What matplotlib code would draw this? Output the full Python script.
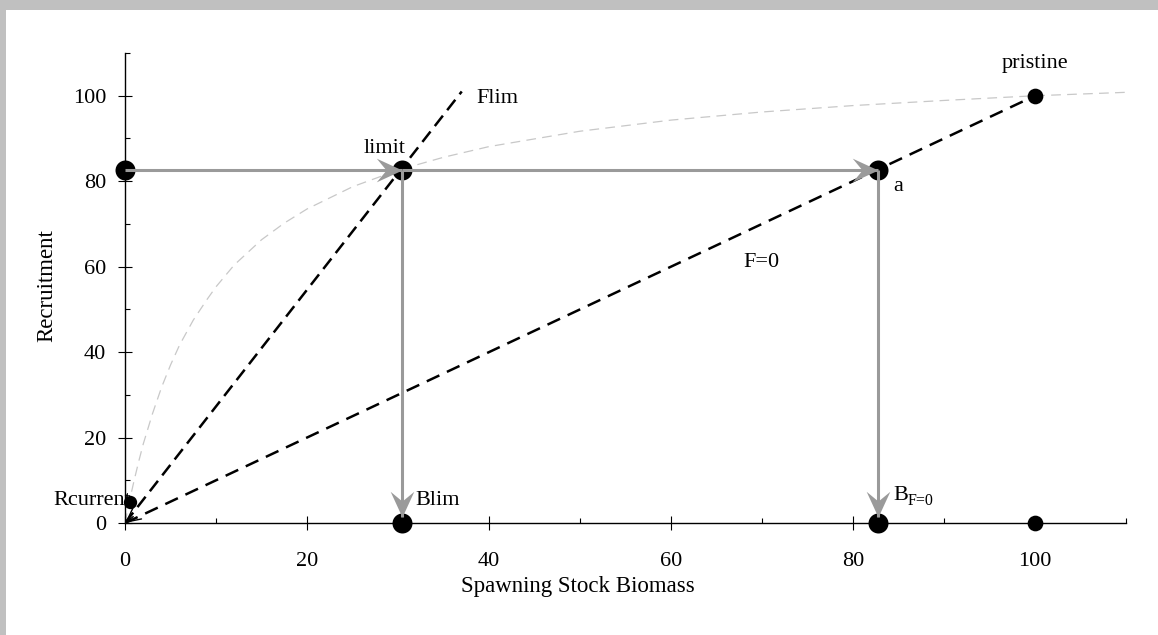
import matplotlib
matplotlib.use('Agg')
import matplotlib.pyplot as plt
from matplotlib.path import Path
from matplotlib.markers import MarkerStyle
from matplotlib.transforms import Affine2D
from matplotlib.patches import Rectangle
from matplotlib.ticker import MultipleLocator

plt.rcParams['font.family'] = ['Liberation Serif', 'DejaVu Serif']
plt.rcParams['lines.scale_dashes'] = False

# stock-recruitment curve
sr_ssb = [0, 0.5, 1, 1.5, 2, 3, 4, 5, 6, 7.5, 9, 10, 12, 15, 17.5, 20, 25, 30, 35,
          40, 50, 60, 70, 80, 90, 100, 110]
sr_rec = [0, 5.3, 10, 14.4, 18.5, 25.5, 31.7, 37, 41.7, 47.5, 52.3, 55.3, 60.4, 66.3,
          70.2, 73.5, 78.7, 82.6, 85.6, 88.1, 91.7, 94.3, 96.2, 97.7, 98.9, 100, 100.8]

# replacement lines
flim_x = [0, 37]
flim_y = [0, 101]
f0_x = [0, 100]
f0_y = [0, 100]

# points
big_x = [0, 30.4, 82.7, 30.4, 82.7]
big_y = [82.7, 82.7, 82.7, 0, 0]
mid_x = [100, 100]
mid_y = [100, 0]
rcur_x = [0.5]
rcur_y = [5]

# grey arrows
arr_x0 = [0, 30.4, 30.4, 82.7]
arr_y0 = [82.7, 82.7, 82.7, 82.7]
arr_x1 = [30.4, 82.7, 30.4, 82.7]
arr_y1 = [82.7, 82.7, 1.3, 1.3]

# labels: text, x, y, ha
labels = [
    ('Flim', 38.6, 98.3, 'left'),
    ('limit', 26.2, 86.6, 'left'),
    ('a', 84.4, 77.8, 'left'),
    ('pristine', 100, 106.4, 'center'),
    ('F=0', 67.9, 59.9, 'left'),
    ('Blim', 31.9, 4.2, 'left'),
    ('B', 84.4, 5.4, 'left'),
]

grey = '#9a9a9a'

fig = plt.figure(figsize=(11.58, 6.35), dpi=100, facecolor='#c0c0c0')
fig.add_artist(Rectangle((6 / 1158, 0), 1, 625 / 635, transform=fig.transFigure,
                         facecolor='white', edgecolor='none', zorder=-10))
ax = fig.add_axes([0.108, 0.1764, 0.8644, 0.7401])
ax.set_facecolor('none')

ln, = ax.plot(sr_ssb, sr_rec, color='#c8c8c8', lw=0.9, zorder=1)
ln.set_dashes([7, 4.5])
ln, = ax.plot(flim_x, flim_y, color='black', lw=1.8, zorder=2)
ln.set_dashes([9.5, 5])
ln, = ax.plot(f0_x, f0_y, color='black', lw=1.8, zorder=2)
ln.set_dashes([10, 6])

ax.annotate('', xy=(0, 0), xytext=(0.9, 1.5),
            arrowprops=dict(arrowstyle='->,head_length=0.5,head_width=0.25',
                            color='black', lw=1, shrinkA=0, shrinkB=0,
                            mutation_scale=20), zorder=3)

ax.plot(big_x, big_y, 'o', color='black', ms=14.4, mec='none', zorder=4, clip_on=False)
ax.plot(mid_x, mid_y, 'o', color='black', ms=11.3, mec='none', zorder=4, clip_on=False)
ax.plot(rcur_x, rcur_y, 'o', color='black', ms=9.6, mec='none', zorder=4, clip_on=False)

head = Path([(0, 0), (-1, 0.46), (-0.62, 0), (-1, -0.46), (0, 0)],
            [Path.MOVETO, Path.LINETO, Path.LINETO, Path.LINETO, Path.CLOSEPOLY])
for x0, y0, x1, y1 in zip(arr_x0, arr_y0, arr_x1, arr_y1):
    ax.plot([x0, x1], [y0, y1], color=grey, lw=2.2, solid_capstyle='butt',
            zorder=5, clip_on=False)
    ang = 0 if y0 == y1 else -90
    m = MarkerStyle(head, transform=Affine2D().rotate_deg(ang))
    ax.plot([x1], [y1], marker=m, ms=37, color=grey, mec='none', zorder=5, clip_on=False)

for txt, x, y, ha in labels:
    ax.text(x, y, txt, ha=ha, va='baseline', fontsize=16, zorder=6)
# subscript of B_F=0
ax.annotate('F=0', xy=(84.4, 5.4), xytext=(10.8, -3.5), textcoords='offset points',
            ha='left', va='baseline', fontsize=11.5, zorder=6)
ax.text(0.66, 4.2, 'Rcurrent', ha='right', va='baseline', fontsize=16, zorder=3)

ax.set_xlim(0, 110)
ax.set_ylim(0, 110)
ax.spines['top'].set_visible(False)
ax.spines['right'].set_visible(False)
for s in ['left', 'bottom']:
    ax.spines[s].set_linewidth(1.0)
ax.xaxis.set_major_locator(MultipleLocator(20))
ax.xaxis.set_minor_locator(MultipleLocator(10))
ax.yaxis.set_major_locator(MultipleLocator(20))
ax.yaxis.set_minor_locator(MultipleLocator(10))
ax.tick_params(which='major', direction='inout', length=9.4, width=0.8, labelsize=16)
ax.tick_params(axis='y', which='major', pad=8.8)
ax.tick_params(axis='x', which='major', pad=16.2)
ax.tick_params(which='minor', direction='in', length=3.6, width=0.8)

ax.set_xlabel('Spawning Stock Biomass', fontsize=16.5)
ax.set_ylabel('Recruitment', fontsize=16.5)
ax.xaxis.set_label_coords(0.4525, -0.112)
ax.yaxis.set_label_coords(-0.0674, 0.506)

fig.savefig('out.png', dpi=100, facecolor=fig.get_facecolor())
